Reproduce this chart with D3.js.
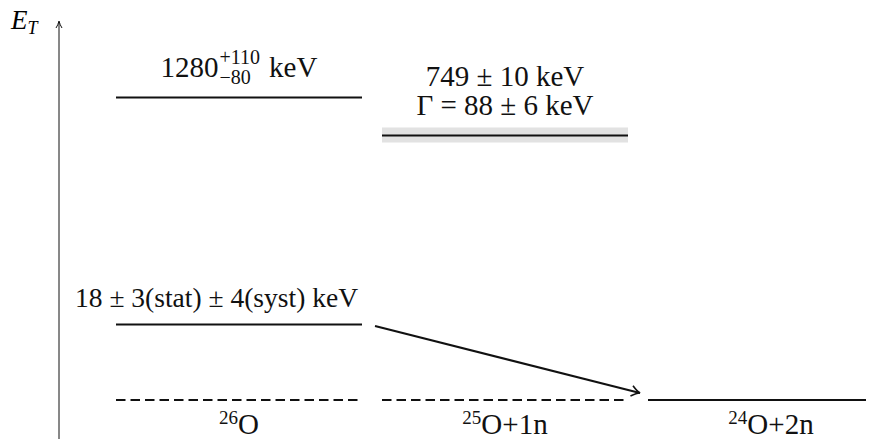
<!DOCTYPE html>
<html>
<head>
<meta charset="utf-8">
<script src="https://cdn.jsdelivr.net/npm/d3@7/dist/d3.min.js"></script>
<style>
  html, body { margin: 0; padding: 0; background: #fff; }
</style>
</head>
<body>
<svg id="chart" width="881" height="439" font-family="'Liberation Serif', 'Times New Roman', serif"></svg>
<script>
// Decay channels (columns) of the level scheme
const channels = ["26O", "25O+1n", "24O+2n"];
const channelMass = [26, 25, 24];
const channelRest = ["O", "O+1n", "O+2n"];

// Measured states (energy above the 24O+2n threshold, keV)
const stateChannel = ["26O", "26O", "25O+1n"];
const stateEnergy = [1280, 18, 749];
const resonanceWidth = 88; // Γ of the 25O state, keV

// Thresholds drawn at E_T = 0
const thresholdChannel = ["26O", "25O+1n", "24O+2n"];
const thresholdEnergy = [0, 0, 0];
const thresholdDashed = [true, true, false];

const svg = d3.select("#chart");
const W = 881, H = 439;
const stroke = "#111";
const serif = "'Liberation Serif', 'Times New Roman', serif";

// Schematic (not-to-scale) energy axis
const y = d3.scaleLinear()
  .domain([0, 18, 749, 1280])
  .range([400, 324.5, 135.5, 97.5]);

const x = d3.scaleBand()
  .domain(channels)
  .range([116, 894])
  .paddingInner(20 / 266)
  .paddingOuter(0);
const bw = x.bandwidth();
const xRight = 866;
const x0 = c => x(c);
const x1 = c => Math.min(x(c) + bw, xRight);

// Vertical E_T axis with arrow
const axisX = 59;
svg.append("line")
  .attr("x1", axisX).attr("x2", axisX)
  .attr("y1", H).attr("y2", 22)
  .attr("stroke", stroke).attr("stroke-width", 1);
svg.append("path")
  .attr("d", `M${axisX - 3},${28} Q${axisX - 1},${25} ${axisX},${21} Q${axisX + 1},${25} ${axisX + 3},${28}`)
  .attr("fill", "none").attr("stroke", stroke).attr("stroke-width", 1);
const axLabel = svg.append("text").attr("x", 11).attr("y", 29)
  .attr("font-family", serif).attr("font-size", 27);
axLabel.append("tspan").attr("font-style", "italic").text("E");
axLabel.append("tspan").attr("font-style", "italic").attr("font-size", 18)
  .attr("dy", 5).attr("dx", 0).text("T");

// Resonance width band for the 25O state
const resIdx = stateChannel.indexOf("25O+1n");
svg.append("rect")
  .attr("x", x0(stateChannel[resIdx]))
  .attr("width", x1(stateChannel[resIdx]) - x0(stateChannel[resIdx]))
  .attr("y", y(stateEnergy[resIdx]) - 8)
  .attr("height", 15)
  .attr("fill", "#e2e2e2");

// State levels
stateEnergy.forEach((e, i) => {
  const c = stateChannel[i];
  svg.append("line")
    .attr("x1", x0(c)).attr("x2", x1(c))
    .attr("y1", y(e)).attr("y2", y(e))
    .attr("stroke", stroke).attr("stroke-width", 2);
});

// Thresholds
thresholdEnergy.forEach((e, i) => {
  const c = thresholdChannel[i];
  svg.append("line")
    .attr("x1", x0(c)).attr("x2", x1(c))
    .attr("y1", y(e)).attr("y2", y(e))
    .attr("stroke", stroke).attr("stroke-width", 2)
    .attr("stroke-dasharray", thresholdDashed[i] ? "9.5,5" : null);
});

// Direct two-neutron decay arrow: 26O(g.s.) -> 24O+2n
const ax1 = x1("26O") + 13, ay1 = y(stateEnergy[1]) + 1.5;
const ax2 = x0("24O+2n") - 8, ay2 = y(0) - 7;
svg.append("line")
  .attr("x1", ax1).attr("y1", ay1).attr("x2", ax2).attr("y2", ay2)
  .attr("stroke", stroke).attr("stroke-width", 2);
const ang = Math.atan2(ay2 - ay1, ax2 - ax1);
const head = (len, a) => [ax2 - len * Math.cos(ang + a), ay2 - len * Math.sin(ang + a)];
const h1 = head(10, 0.55), h2 = head(10, -0.55);
svg.append("path")
  .attr("d", `M${h1[0]},${h1[1]} Q${ax2 - 3 * Math.cos(ang + 0.2)},${ay2 - 3 * Math.sin(ang + 0.2)} ${ax2},${ay2} Q${ax2 - 3 * Math.cos(ang - 0.2)},${ay2 - 3 * Math.sin(ang - 0.2)} ${h2[0]},${h2[1]}`)
  .attr("fill", "none").attr("stroke", stroke).attr("stroke-width", 1.6);

const fs = 29;
const cx = c => x(c) + bw / 2;
const txt = (xx, yy, size) => svg.append("text").attr("x", xx).attr("y", yy)
  .attr("font-family", serif).attr("font-size", size || fs).attr("fill", "#111");

// 26O excited state label: 1280 with asymmetric errors, then keV
{
  const e = stateEnergy[0];
  const by = y(e) - 21;
  const base = txt(0, by).text(String(e));
  const sup = txt(0, by - 13, 20).text("+110");
  const sub = txt(0, by + 7, 20).text("−80");
  const unit = txt(0, by).text("keV");
  const wb = base.node().getComputedTextLength();
  const ws = Math.max(sup.node().getComputedTextLength(), sub.node().getComputedTextLength());
  const wu = unit.node().getComputedTextLength();
  const gap = 9;
  const total = wb + 1 + ws + gap + wu;
  const left = cx("26O") - total / 2;
  base.attr("x", left);
  sup.attr("x", left + wb + 1);
  sub.attr("x", left + wb + 1);
  unit.attr("x", left + wb + 1 + ws + gap);
}

// 25O state label
{
  const e = stateEnergy[resIdx];
  txt(cx("25O+1n"), y(e) - 50).attr("text-anchor", "middle")
    .text(`${e} ± 10 keV`);
  txt(cx("25O+1n"), y(e) - 21).attr("text-anchor", "middle")
    .text(`Γ = ${resonanceWidth} ± 6 keV`);
}

// 26O ground-state label
{
  const e = stateEnergy[1];
  txt(x1("26O") - 4, y(e) - 18, 27.5).attr("text-anchor", "end")
    .text(`${e} ± 3(stat) ± 4(syst) keV`);
}

// Channel labels
channels.forEach((c, i) => {
  const t = txt(cx(c), 434).attr("text-anchor", "middle");
  t.append("tspan").attr("font-size", 19).attr("dy", -10).text(channelMass[i]);
  t.append("tspan").attr("dy", 10).text(channelRest[i]);
});
</script>
</body>
</html>
